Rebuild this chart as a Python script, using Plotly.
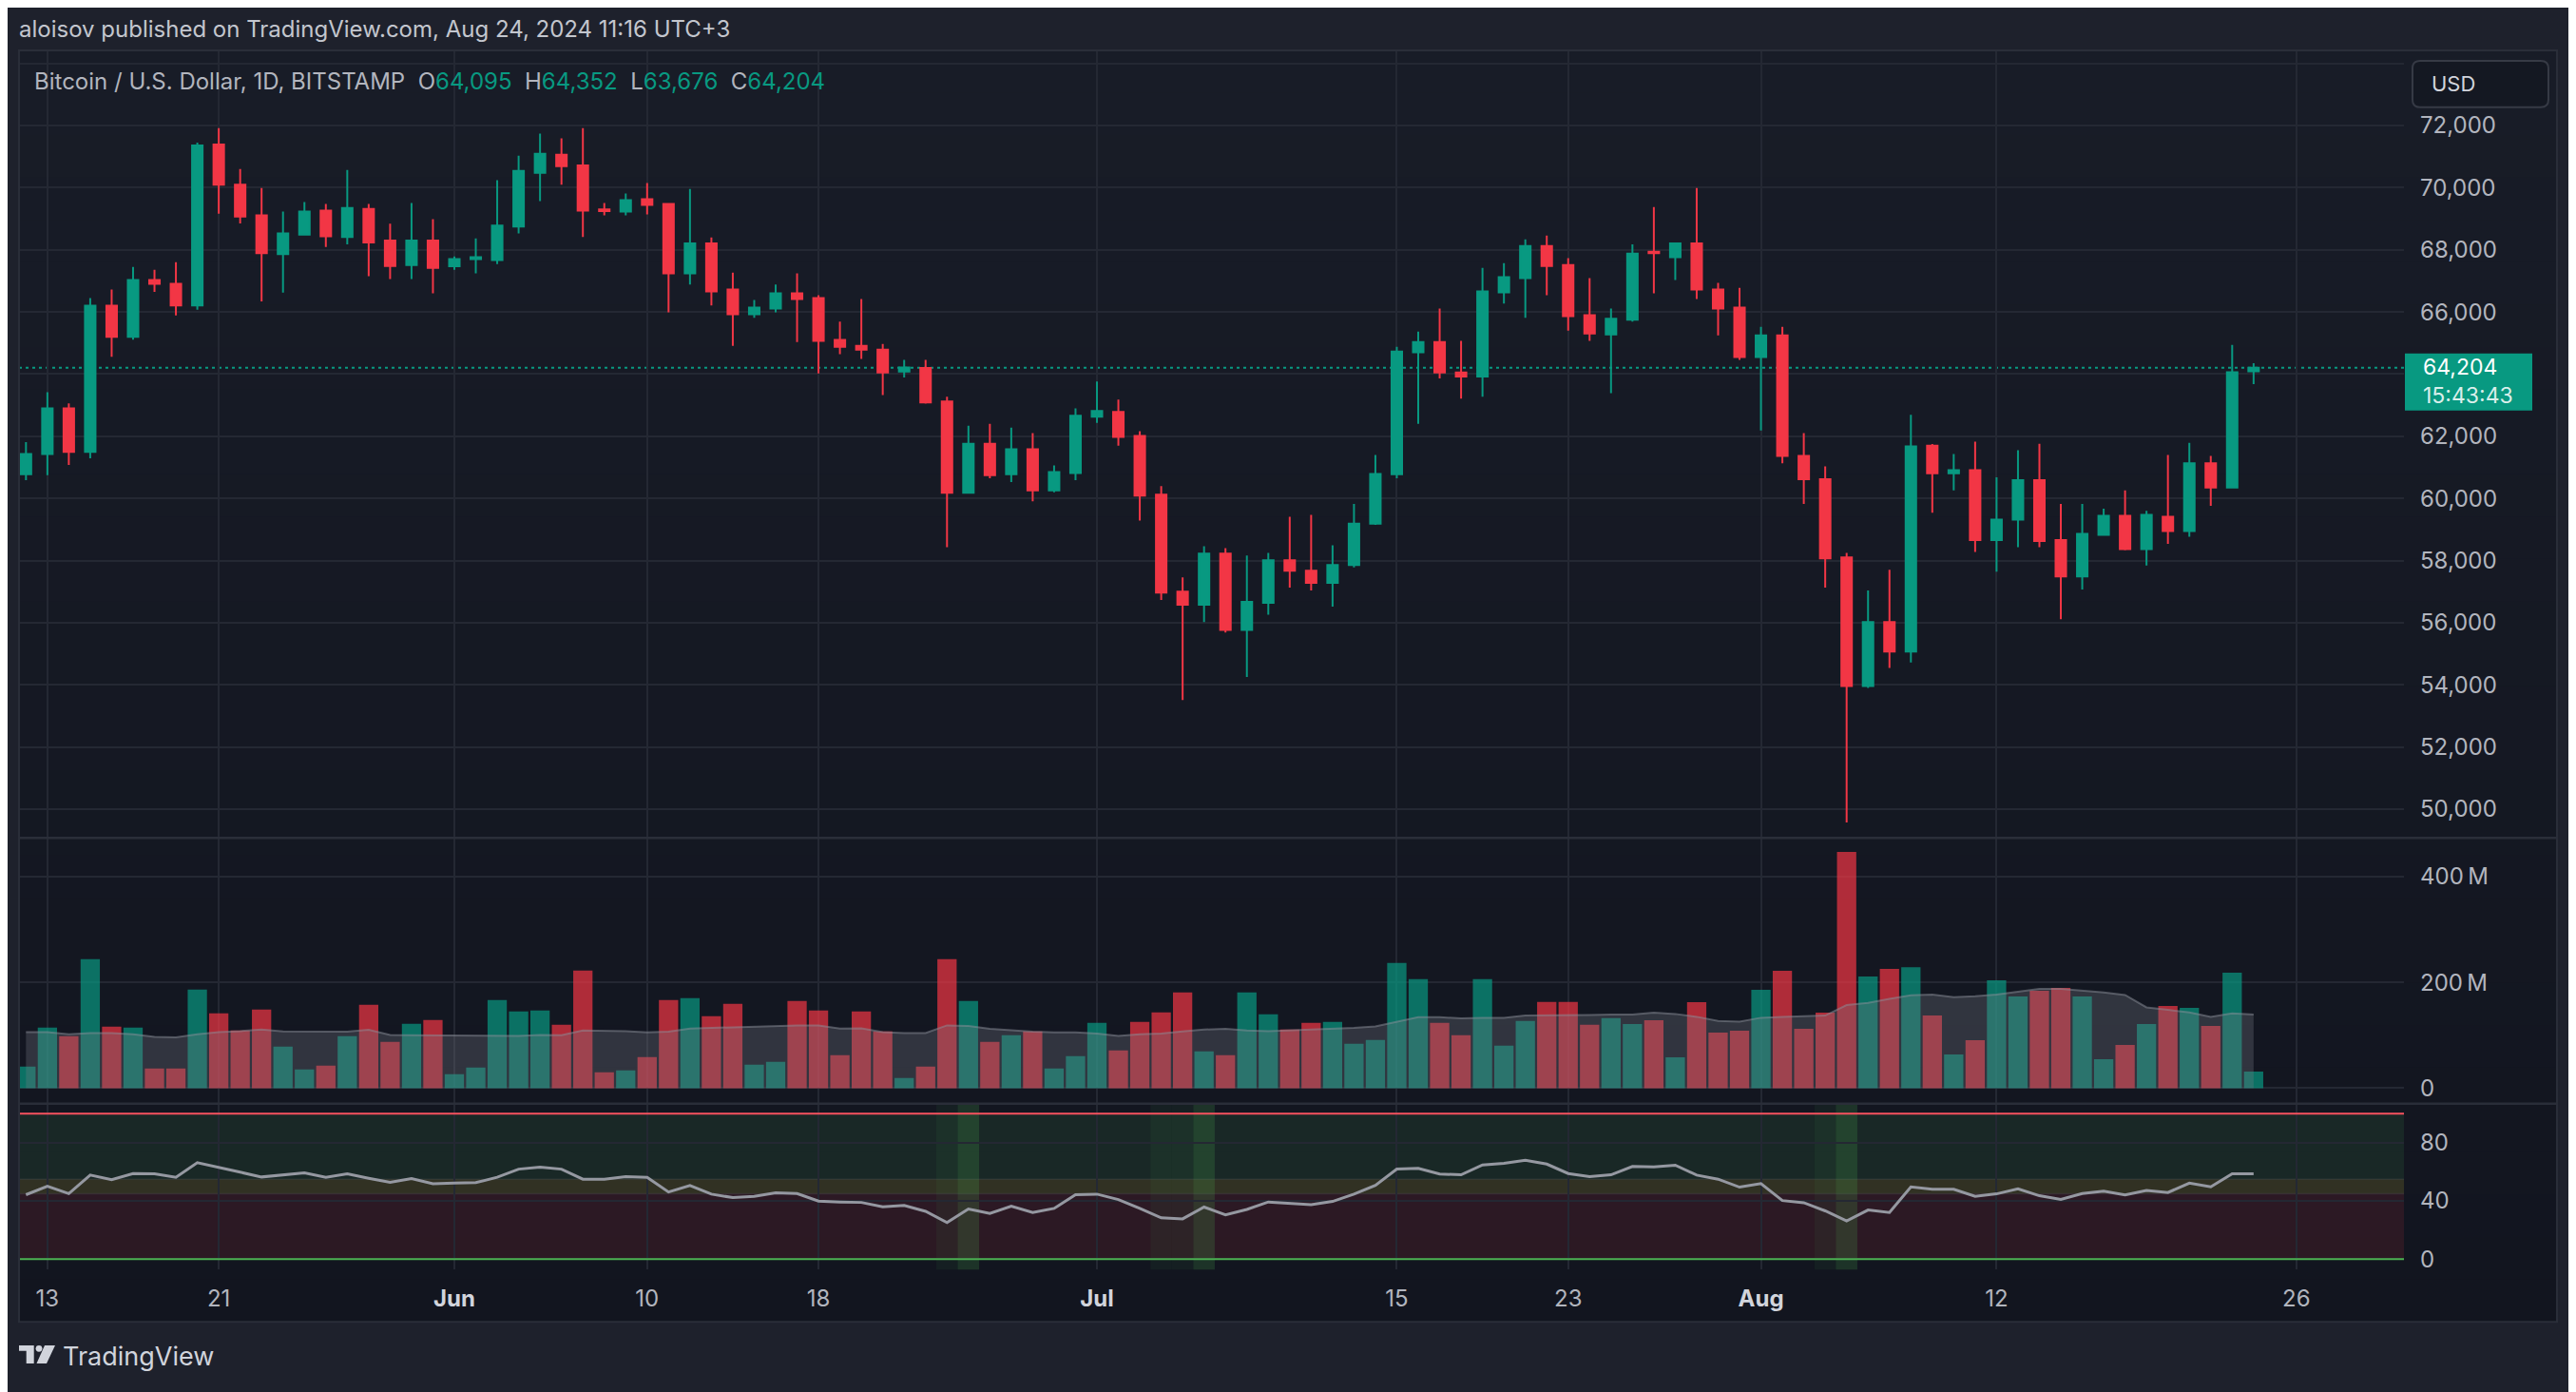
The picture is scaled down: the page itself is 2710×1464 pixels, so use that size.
import pandas as pd
import plotly.graph_objects as go

W, H = 2710, 1464
OFF = 8  # Seitenrand des Browsers ausgleichen

# Tageskerzen BTC/USD, BITSTAMP 1D, 12. Mai - 24. Aug 2024
dates = pd.date_range("2024-05-12", "2024-08-24", freq="D")

opens = [
    60780, 61430, 62900, 61500, 66200, 65200, 67030, 66910, 66210, 71390,
    70100, 69110, 67860, 68490, 69260, 68410, 69320, 68300, 67510, 68300,
    67470, 67700, 67670, 68750, 70480, 71060, 70720, 69300, 69230, 69630,
    69480, 67240, 68210, 66720, 65930, 66110, 66600, 66450, 65100, 64910,
    64790, 64080, 64200, 63120, 60180, 61760, 60780, 61580, 60260, 60820,
    62630, 62780, 62010, 60120, 57000, 56580, 58220, 55770, 56640, 58010,
    57670, 57280, 57860, 59190, 60780, 64700, 65030, 64050, 63920, 66630,
    67090, 68120, 67510, 65900, 65280, 65750, 67940, 67760, 68210, 66720,
    66140, 64550, 65250, 61370, 60620, 58100, 53960, 56020, 55070, 61700,
    60810, 60910, 58660, 59320, 60590, 58660, 57490, 58830, 59440, 58370,
    59410, 58950, 61130, 60350, 64095,
]
highs = [
    61810, 63420, 63060, 66450, 66720, 67450, 67360, 67600, 71450, 71920,
    70600, 69990, 69230, 69540, 69480, 70570, 69480, 68840, 69510, 68990,
    67790, 68370, 70240, 71030, 71740, 71590, 71920, 69510, 69810, 70150,
    69510, 69960, 68400, 67270, 66390, 66880, 67240, 66540, 65690, 66420,
    64970, 64460, 64460, 63270, 62340, 62400, 62280, 62100, 61060, 62900,
    63760, 63180, 62160, 60400, 57460, 58460, 58400, 58160, 58250, 59410,
    59470, 58490, 59820, 61400, 64880, 65370, 66110, 65070, 67420, 67570,
    68340, 68460, 67730, 67090, 66110, 68180, 69380, 68240, 69990, 66940,
    66780, 65520, 65520, 62100, 61030, 58250, 57040, 57700, 62690, 61750,
    61430, 61830, 60680, 61550, 61760, 59820, 59820, 59670, 60260, 59600,
    61400, 61790, 61370, 64940, 64352,
]
lows = [
    60590, 60750, 61080, 61290, 64560, 65110, 66650, 65890, 66070, 69160,
    68850, 66340, 66620, 68460, 68090, 68180, 67150, 67060, 67060, 66600,
    67360, 67240, 67540, 68530, 69570, 70100, 68410, 69110, 69110, 69140,
    65990, 66880, 66210, 64910, 65810, 65990, 65030, 64020, 64640, 64490,
    63330, 63890, 63050, 58430, 60150, 60650, 60530, 59910, 60200, 60590,
    62430, 61700, 59290, 56730, 53510, 56020, 55680, 54250, 56260, 57130,
    57040, 56520, 57780, 59150, 60650, 62400, 63860, 63210, 63270, 66270,
    65810, 66540, 65400, 65070, 63390, 65690, 66600, 67030, 66420, 65250,
    64460, 62190, 61130, 59820, 57130, 49570, 53900, 54540, 54720, 59540,
    60260, 58280, 57640, 58430, 58430, 56110, 57070, 58800, 58330, 57840,
    58540, 58770, 59760, 60320, 63676,
]
closes = [
    61430, 62900, 61500, 66200, 65200, 67030, 66910, 66210, 71360, 70100,
    69070, 67890, 68530, 69230, 68440, 69350, 68240, 67480, 68300, 67420,
    67700, 67760, 68780, 70540, 71090, 70690, 69260, 69250, 69600, 69450,
    67240, 68210, 66660, 65930, 66140, 66600, 66420, 65070, 64880, 64790,
    64050, 64210, 63090, 60180, 61760, 60750, 61580, 60260, 60850, 62660,
    62810, 61980, 60090, 56970, 56580, 58220, 55770, 56670, 58010, 57670,
    57280, 57860, 59190, 60790, 64730, 65030, 64050, 63920, 66660, 67120,
    68120, 67480, 65870, 65310, 65780, 67880, 67890, 68210, 66720, 66110,
    64550, 65250, 61370, 60620, 58070, 53960, 56020, 55070, 61670, 60810,
    60910, 58660, 59320, 60590, 58630, 57490, 58860, 59440, 58370, 59470,
    58950, 61130, 60350, 64060, 64204,
]

# Volumen in Mio. USD und gleitender Durchschnitt (Mio.)
volume_m = [
    40.7, 114.4, 98.2, 243.8, 116.2, 114.4, 37.1, 37.1, 186.3, 141.4,
    109.0, 148.6, 78.5, 35.3, 42.5, 98.2, 157.5, 87.5, 121.6, 128.8,
    26.4, 38.9, 166.5, 145.0, 146.8, 119.8, 222.2, 30.0, 33.5, 58.7,
    166.5, 170.1, 136.0, 159.3, 44.3, 49.7, 164.7, 146.8, 62.3, 145.0,
    107.2, 19.2, 40.7, 243.8, 164.7, 87.5, 100.0, 107.2, 37.1, 60.5,
    123.4, 71.3, 125.2, 143.2, 180.9, 69.5, 62.3, 180.9, 139.6, 110.8,
    123.4, 125.2, 83.9, 91.0, 236.6, 206.1, 123.4, 100.0, 206.1, 80.3,
    127.0, 162.9, 162.9, 119.8, 132.4, 121.0, 128.2, 58.1, 162.3, 104.8,
    108.4, 185.7, 221.6, 112.0, 142.5, 446.2, 210.8, 225.2, 228.7, 137.1,
    63.5, 90.4, 203.6, 173.1, 183.8, 189.2, 173.1, 54.5, 81.4, 121.0,
    155.1, 151.5, 117.4, 218.0, 31.1,
]
volume_ma_m = [
    106.0, 106.0, 101.8, 104.2, 104.2, 101.8, 97.0, 95.8, 101.8, 106.0,
    107.8, 110.8, 107.2, 107.2, 107.2, 106.6, 110.2, 100.6, 100.0, 100.0,
    100.0, 100.0, 98.8, 98.8, 100.6, 100.0, 109.0, 109.0, 107.8, 105.4,
    106.6, 112.6, 113.8, 115.6, 117.4, 118.6, 118.6, 118.6, 112.6, 113.2,
    106.0, 104.2, 104.2, 118.6, 117.4, 112.0, 109.0, 106.6, 105.4, 105.4,
    103.0, 98.8, 101.8, 103.0, 107.2, 110.8, 112.0, 109.0, 107.8, 109.0,
    110.2, 111.4, 113.8, 116.8, 125.8, 134.2, 134.2, 131.8, 133.0, 133.0,
    137.2, 137.2, 138.4, 138.4, 139.0, 139.0, 142.6, 140.2, 134.8, 127.0,
    125.8, 133.0, 134.8, 136.6, 137.2, 156.9, 161.1, 168.9, 175.5, 176.7,
    171.9, 173.7, 176.7, 182.1, 187.5, 187.5, 184.5, 180.9, 176.1, 152.7,
    148.0, 143.2, 134.8, 141.4, 139.0,
]

# RSI-Verlauf
rsi = [
    44.3, 50.2, 45.1, 57.8, 54.7, 58.9, 58.7, 56.3, 66.3, 62.8,
    59.8, 56.5, 57.8, 59.3, 56.3, 58.7, 55.6, 52.8, 55.4, 51.9,
    52.3, 52.6, 56.3, 61.9, 63.2, 61.9, 55.0, 55.0, 56.7, 56.3,
    46.2, 50.6, 44.7, 42.3, 43.2, 45.6, 45.1, 39.9, 39.3, 39.0,
    36.0, 36.9, 32.9, 25.1, 34.5, 31.4, 36.4, 32.1, 34.9, 44.3,
    44.7, 41.0, 34.9, 28.4, 27.7, 35.8, 30.5, 34.2, 39.3, 38.6,
    37.5, 39.7, 44.7, 50.8, 61.9, 62.4, 58.5, 58.0, 64.8, 65.9,
    68.0, 65.4, 58.9, 56.7, 58.0, 63.7, 63.5, 64.6, 57.8, 55.0,
    49.5, 51.9, 40.3, 38.8, 33.2, 26.2, 33.8, 32.1, 49.7, 48.0,
    48.0, 43.2, 44.9, 48.4, 43.6, 41.0, 45.1, 46.7, 44.1, 47.3,
    45.8, 52.3, 49.7, 58.7, 58.7,
]
rsi_zone_days = ["2024-06-24", "2024-07-04", "2024-07-05", "2024-08-04"]
rsi_signal_days = ["2024-06-25", "2024-07-06", "2024-08-05"]

# Achsenbeschriftungen
date_ticks = ["2024-05-13", "2024-05-21", "2024-06-01", "2024-06-10", "2024-06-18",
              "2024-07-01", "2024-07-15", "2024-07-23", "2024-08-01", "2024-08-12",
              "2024-08-26"]
date_labels = ["13", "21", "Jun", "10", "18", "Jul", "15", "23", "Aug", "12", "26"]
month_labels = {"Jun", "Jul", "Aug"}
price_ticks = [50000, 52000, 54000, 56000, 58000, 60000, 62000, 64000, 66000,
               68000, 70000, 72000, 74000]
volume_ticks = [0, 200, 400]
volume_labels = ["0", "200\u2009M", "400\u2009M"]
rsi_ticks = [0, 40, 80]

# Farben
UP = "#089981"
DOWN = "#f23645"
TEXT = "#b2b5be"
BRIGHT = "#d1d4dc"
GRID = "#242833"
OUTER = "#1e212c"
BORDER = "#2a2e39"
FONT = "Inter, Roboto, sans-serif"


def px(x):
    return (x - OFF) / W


def py(y):
    return 1 - (y - OFF) / H


up_day = [c >= o for o, c in zip(opens, closes)]
vol_colors = ["rgba(8,153,129,0.7)" if u else "rgba(242,54,69,0.7)" for u in up_day]
last = closes[-1]
last_col = UP if up_day[-1] else DOWN

fig = go.Figure()

# Kerzen
fig.add_trace(go.Candlestick(
    x=dates, open=opens, high=highs, low=lows, close=closes,
    increasing=dict(line=dict(color=UP, width=2), fillcolor=UP),
    decreasing=dict(line=dict(color=DOWN, width=2), fillcolor=DOWN),
    whiskerwidth=0, xaxis="x", yaxis="y", showlegend=False,
))

# Volumen + MA
fig.add_trace(go.Bar(
    x=dates, y=volume_m, marker=dict(color=vol_colors, line=dict(width=0)),
    xaxis="x2", yaxis="y2", showlegend=False,
))
fig.add_trace(go.Scatter(
    x=dates, y=volume_ma_m, mode="lines", fill="tozeroy",
    fillcolor="rgba(120,123,134,0.3)", line=dict(color="rgba(140,143,154,0.5)", width=2),
    xaxis="x2", yaxis="y2", showlegend=False,
))

# RSI
fig.add_trace(go.Scatter(
    x=dates, y=rsi, mode="lines", line=dict(color="#9598a1", width=3),
    xaxis="x3", yaxis="y3", showlegend=False,
))

# Zeitachse
x_start = (dates[0] - pd.Timedelta(hours=7.8)).strftime("%Y-%m-%d %H:%M")
x_end = (dates[0] + pd.Timedelta(days=111.02)).strftime("%Y-%m-%d %H:%M")
date_text = [
    f"<span style='color:{BRIGHT}'><b>{t}</b></span>" if t in month_labels else t
    for t in date_labels
]


def x_style(show_labels, anchor, match=None):
    d = dict(
        type="date", range=[x_start, x_end], domain=[px(20), px(2529)], anchor=anchor,
        tickvals=date_ticks, ticktext=date_text, showticklabels=show_labels,
        showgrid=True, gridcolor=GRID, gridwidth=1.5, zeroline=False, showline=False,
        ticks="", ticklabelstandoff=14, tickfont=dict(size=24, color=TEXT, family=FONT),
        rangeslider=dict(visible=False), fixedrange=True,
    )
    if match:
        d["matches"] = match
    return d


def y_style(domain, rng, vals, text, anchor):
    return dict(
        domain=domain, range=rng, side="right", anchor=anchor,
        tickvals=vals, ticktext=text, showgrid=True, gridcolor=GRID, gridwidth=1.5,
        zeroline=False, showline=False, ticks="", ticklabelstandoff=16,
        tickfont=dict(size=24, color=TEXT, family=FONT), fixedrange=True,
    )


# 74,000 nur als Gitterlinie, Label unter der Kursmarke ausgeblendet
price_labels = [
    "" if v >= 74000 or abs(v - last) < 1000 else f"{v:,}" for v in price_ticks
]

shapes = []

# Hintergrund mit leichtem Verlauf
top, bottom, n = 53, 1393, 30
c_top, c_bot = (24, 28, 39), (18, 21, 31)
for i in range(n):
    t = i / (n - 1)
    col = tuple(round(a + (b - a) * t) for a, b in zip(c_top, c_bot))
    y0 = top + (bottom - top) * i / n
    y1 = top + (bottom - top) * (i + 1) / n
    shapes.append(dict(type="rect", xref="paper", yref="paper",
                       x0=px(20), x1=px(2690), y0=py(y1 + 0.5), y1=py(y0),
                       fillcolor=f"rgb{col}", line=dict(width=0), layer="below"))

# RSI-Zonen
for lo, hi, col in [(55, 100, "rgba(76,175,80,0.12)"),
                    (45, 55, "rgba(255,235,59,0.13)"),
                    (0, 45, "rgba(242,54,69,0.12)")]:
    shapes.append(dict(type="rect", xref="x3 domain", yref="y3", x0=0, x1=1, y0=lo, y1=hi,
                       fillcolor=col, line=dict(width=0), layer="below"))
for lvl in (45, 55):
    shapes.append(dict(type="line", xref="x3 domain", yref="y3", x0=0, x1=1, y0=lvl, y1=lvl,
                       line=dict(color="rgba(150,152,162,0.12)", width=1.5), layer="below"))
for day in rsi_zone_days:
    d = pd.Timestamp(day)
    shapes.append(dict(type="rect", xref="x3", yref="y3 domain",
                       x0=d - pd.Timedelta(hours=12), x1=d + pd.Timedelta(hours=12), y0=0, y1=1,
                       fillcolor="rgba(76,175,80,0.07)", line=dict(width=0), layer="below"))
for day in rsi_signal_days:
    d = pd.Timestamp(day)
    shapes.append(dict(type="rect", xref="x3", yref="y3 domain",
                       x0=d - pd.Timedelta(hours=12), x1=d + pd.Timedelta(hours=12), y0=0, y1=1,
                       fillcolor="rgba(76,175,80,0.2)", line=dict(width=0), layer="below"))
shapes.append(dict(type="line", xref="x3 domain", yref="y3", x0=0, x1=1, y0=100, y1=100,
                   line=dict(color="#f7525f", width=2)))
shapes.append(dict(type="line", xref="x3 domain", yref="y3", x0=0, x1=1, y0=0, y1=0,
                   line=dict(color="#4caf50", width=2)))

# Letzter Kurs
shapes.append(dict(type="line", xref="x domain", yref="y", x0=0, x1=1, y0=last, y1=last,
                   line=dict(color=last_col, width=2, dash="3px,4px"), layer="below"))
shapes.append(dict(type="rect", xref="paper", yref="y", ysizemode="pixel", yanchor=last,
                   x0=px(2530), x1=px(2664), y0=15, y1=-45,
                   fillcolor=last_col, line=dict(width=0)))


def rounded(x0, y0, x1, y1, r):
    pts = [("M", x0 + r, y0), ("L", x1 - r, y0), ("Q", x1, y0, x1, y0 + r),
           ("L", x1, y1 - r), ("Q", x1, y1, x1 - r, y1), ("L", x0 + r, y1),
           ("Q", x0, y1, x0, y1 - r), ("L", x0, y0 + r), ("Q", x0, y0, x0 + r, y0)]
    out = []
    for p in pts:
        cmd, vals = p[0], p[1:]
        coords = [f"{px(vals[i]):.5f},{py(vals[i + 1]):.5f}" for i in range(0, len(vals), 2)]
        out.append(cmd + " ".join(coords))
    return " ".join(out) + " Z"


# USD-Feld
shapes.append(dict(type="path", xref="paper", yref="paper", path=rounded(2538, 64, 2681, 113, 8),
                   fillcolor="#141822", line=dict(color="#363a45", width=2)))

# Rahmen und Trennlinien
shapes.append(dict(type="rect", xref="paper", yref="paper", x0=px(20), x1=px(2690),
                   y0=py(1393), y1=py(53), line=dict(color=BORDER, width=2)))
for yy in (883, 1163):
    shapes.append(dict(type="line", xref="paper", yref="paper", x0=px(20), x1=px(2690),
                       y0=py(yy), y1=py(yy), line=dict(color=BORDER, width=2.5)))

# TradingView-Logo
logo_t = [(20, 1418), (35.7, 1418), (35.7, 1437), (27.7, 1437), (27.7, 1423.6), (20, 1423.6)]
logo_s = [(47, 1418), (58, 1418), (49, 1437), (38.5, 1437)]
for poly in (logo_t, logo_s):
    path = "M" + " L".join(f"{px(a):.5f},{py(b):.5f}" for a, b in poly) + " Z"
    shapes.append(dict(type="path", xref="paper", yref="paper", path=path,
                       fillcolor=BRIGHT, line=dict(width=0)))
shapes.append(dict(type="circle", xref="paper", yref="paper", x0=px(37.6), x1=px(44.4),
                   y0=py(1424.6), y1=py(1417.8), fillcolor=BRIGHT, line=dict(width=0)))

sym_text = (
    "Bitcoin / U.S. Dollar, 1D, BITSTAMP\u00a0\u00a0"
    f"O<span style='color:{last_col}'>{opens[-1]:,}</span>\u00a0\u00a0"
    f"H<span style='color:{last_col}'>{highs[-1]:,}</span>\u00a0\u00a0"
    f"L<span style='color:{last_col}'>{lows[-1]:,}</span>\u00a0\u00a0"
    f"C<span style='color:{last_col}'>{closes[-1]:,}</span>"
)
price_tag = f"{last:,}<br><span style='color:rgba(255,255,255,0.85)'>15:43:43</span>"

annotations = [
    dict(text="aloisov published on TradingView.com, Aug 24, 2024 11:16 UTC+3",
         x=px(18), y=py(31), xanchor="left", yanchor="middle",
         font=dict(size=24, color="#c3c6ce", family=FONT)),
    dict(text=sym_text, x=px(34), y=py(86), xanchor="left", yanchor="middle",
         font=dict(size=24, color=TEXT, family=FONT)),
    dict(text="USD", x=px(2556), y=py(88.5), xanchor="left", yanchor="middle",
         font=dict(size=22, color=BRIGHT, family=FONT)),
    dict(text="TradingView", x=px(64), y=py(1429), xanchor="left", yanchor="middle",
         font=dict(size=27, color=BRIGHT, family=FONT)),
    dict(text=price_tag, xref="paper", yref="y", x=px(2547), y=last, yshift=-14,
         xanchor="left", yanchor="middle", align="left",
         font=dict(size=23, color="#ffffff", family=FONT)),
]
for a in annotations:
    a.setdefault("xref", "paper")
    a.setdefault("yref", "paper")
    a["showarrow"] = False

fig.update_layout(
    width=W, height=H, margin=dict(l=0, r=0, t=0, b=0),
    paper_bgcolor=OUTER, plot_bgcolor="rgba(0,0,0,0)",
    font=dict(family=FONT, color=TEXT),
    bargap=0.1, showlegend=False, hovermode="x",
    xaxis=x_style(False, "y"),
    xaxis2=x_style(False, "y2", "x"),
    xaxis3=x_style(True, "y3", "x"),
    yaxis=y_style([py(883), py(53)], [49075, 74422], price_ticks, price_labels, "x"),
    yaxis2=y_style([py(1163), py(883)], [-29.2, 473], volume_ticks, volume_labels, "x2"),
    yaxis3=y_style([py(1338), py(1163)], [-7.2, 107], rsi_ticks, [str(v) for v in rsi_ticks], "x3"),
    shapes=shapes,
    annotations=annotations,
)

fig.write_html("out.html")
